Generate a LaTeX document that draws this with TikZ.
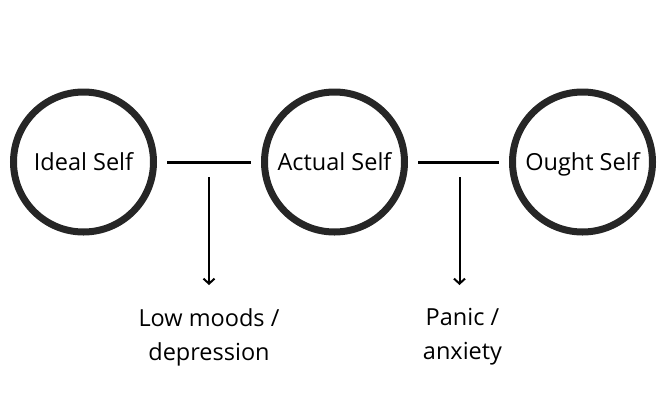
\documentclass[tikz,border=0pt]{standalone}
\usepackage{fontspec}
\setmainfont{Open Sans}
\usetikzlibrary{positioning,arrows.meta}

\begin{document}
\begin{tikzpicture}[x=1pt,y=1pt]
\tikzset{self/.style={draw=black!85,line width=7pt,circle,minimum size=140pt,inner sep=0pt,
  text height=16.7pt,text depth=0pt,font=\fontsize{23.5}{30}\selectfont}}
\tikzset{gap/.style={draw,line width=3pt,shorten <=10pt,shorten >=10pt}}
\tikzset{outcome/.style={align=center,inner sep=0pt,font=\fontsize{23.5}{34}\selectfont}}
\tikzset{drop/.style={draw,line width=2pt,-{Straight Barb[length=5pt,width=11pt]}}}
	\useasboundingbox (0,0) rectangle (670,-400);
	\node[self] (ideal) at (83.5,-162) {Ideal Self};
	\node[self,right=104pt of ideal] (actual) {Actual Self};
	\node[self,right=101pt of actual] (ought) {Ought Self};
		\path[gap] (ideal) -- coordinate[midway] (m1) (actual);
		\path[gap] (actual) -- coordinate[midway] (m2) (ought);
	\node[outcome,below=146pt of m1] (low) {Low moods /\\depression};
	\node[outcome,below=146pt of m2,xshift=4pt] (panic) {Panic /\\anxiety};
		\path[drop] ([yshift=-15pt]m1) -- ([yshift=-123pt]m1);
		\path[drop] ([yshift=-15pt,xshift=1pt]m2) -- ([yshift=-123pt,xshift=1pt]m2);
\end{tikzpicture}
\end{document}
